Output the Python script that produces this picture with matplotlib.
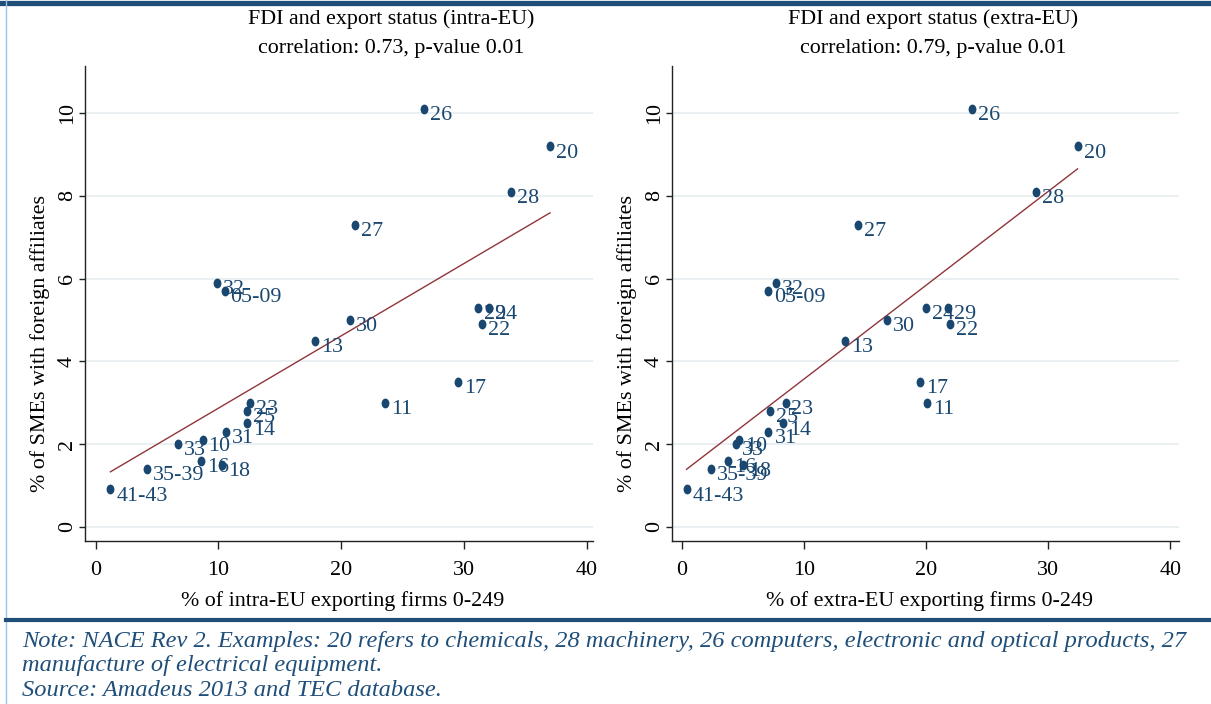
import matplotlib
matplotlib.use("Agg")
import matplotlib.pyplot as plt
import numpy as np
from matplotlib.markers import MarkerStyle
from matplotlib.transforms import Affine2D
from matplotlib.lines import Line2D

plt.rcParams['font.family'] = ['Liberation Serif', 'DejaVu Serif']

# ---- data ----
sectors = ["26", "20", "28", "27", "32", "05-09", "30", "29", "24", "22", "13",
           "17", "11", "23", "25", "14", "31", "10", "33", "16", "18", "35-39", "41-43"]
fdi_share = [10.1, 9.2, 8.1, 7.3, 5.9, 5.7, 5.0, 5.3, 5.3, 4.9, 4.5,
             3.5, 3.0, 3.0, 2.8, 2.5, 2.3, 2.1, 2.0, 1.6, 1.5, 1.4, 0.9]
intra_eu = [26.7, 37.0, 33.8, 21.1, 9.9, 10.5, 20.7, 31.1, 32.0, 31.5, 17.9,
            29.5, 23.6, 12.6, 12.3, 12.3, 10.6, 8.7, 6.7, 8.6, 10.3, 4.2, 1.2]
extra_eu = [23.8, 32.4, 29.0, 14.4, 7.7, 7.06, 16.8, 21.8, 20.0, 22.0, 13.4,
            19.5, 20.1, 8.5, 7.2, 8.3, 7.1, 4.7, 4.45, 3.8, 5.0, 2.4, 0.4]
x_ticks = [0, 10, 20, 30, 40]
y_ticks = [0, 2, 4, 6, 8, 10]

titles = [("FDI and export status (intra-EU)", "correlation: 0.73, p-value 0.01"),
          ("FDI and export status (extra-EU)", "correlation: 0.79, p-value 0.01")]
xlabels = ["% of intra-EU exporting firms 0-249", "% of extra-EU exporting firms 0-249"]
ylabel = "% of SMEs with foreign affiliates"
note_lines = ["Note: NACE Rev 2. Examples: 20 refers to chemicals, 28 machinery, 26 computers, electronic and optical products, 27",
              "manufacture of electrical equipment.",
              "Source: Amadeus 2013 and TEC database."]

# ---- styling ----
W, H = 1211, 704
navy = "#1a476f"
maroon = "#90353b"
frame_blue = "#1f4e79"
FS = 15.8
PX = 0.72  # points per pixel at dpi 100

fig = plt.figure(figsize=(W / 100, H / 100), dpi=100)

def px_axes(x0, y0, x1, y1):
    return fig.add_axes([x0 / W, 1 - y1 / H, (x1 - x0) / W, (y1 - y0) / H])

marker = MarkerStyle('o', transform=Affine2D().scale(0.8, 1.0))

panels = [
    dict(box=(85, 66, 593, 541), xlim=(-0.87, 40.5), x=intra_eu, title_cx=391, xl_cx=343, yl_x=40),
    dict(box=(672, 66, 1179, 541), xlim=(-0.79, 40.7), x=extra_eu, title_cx=933, xl_cx=930, yl_x=627),
]

for i, p in enumerate(panels):
    ax = px_axes(*p['box'])
    x = np.array(p['x'])
    y = np.array(fdi_share)
    ax.set_xlim(*p['xlim'])
    ax.set_ylim(-0.346, 11.14)
    for s in ['top', 'right']:
        ax.spines[s].set_visible(False)
    for s in ['left', 'bottom']:
        ax.spines[s].set_linewidth(1.0)
        ax.spines[s].set_color('#222222')
    ax.set_xticks(x_ticks)
    ax.set_yticks(y_ticks)
    ax.set_xticklabels([str(t) for t in x_ticks], fontsize=FS)
    ax.set_yticklabels([str(t) for t in y_ticks], fontsize=FS, rotation=90, va='center')
    ax.tick_params(axis='x', direction='out', length=8 * PX, width=1, color='#222222', pad=8.5)
    ax.tick_params(axis='y', direction='out', length=6 * PX, width=1, color='#222222', pad=1.5)
    ax.grid(axis='y', color='#e6eef0', linewidth=1.2)
    ax.set_axisbelow(True)

    # fitted line
    b, a = np.polyfit(x, y, 1)
    xs = np.array([x.min(), x.max()])
    ax.plot(xs, a + b * xs, color=maroon, linewidth=1.0, zorder=2)

    ax.scatter(x, y, marker=marker, s=50, color=navy, linewidths=0, zorder=3)
    for xi, yi, lab in zip(x, y, sectors):
        ax.annotate(lab, (xi, yi), xytext=(4.3, -5.0), textcoords='offset points',
                    ha='left', va='center', fontsize=FS, color=navy, zorder=4)

    fig.text(p['title_cx'] / W, 1 - 19 / H, titles[i][0], ha='center', va='center', fontsize=FS)
    fig.text(p['title_cx'] / W, 1 - 48 / H, titles[i][1], ha='center', va='center', fontsize=FS)
    fig.text(p['xl_cx'] / W, 1 - 601 / H, xlabels[i], ha='center', va='center', fontsize=FS)
    fig.text(p['yl_x'] / W, 1 - 343 / H, ylabel, ha='center', va='center', rotation=90, fontsize=FS)

# frame decorations
fig.add_artist(Line2D([0, 1], [1 - 2.5 / H, 1 - 2.5 / H], color=frame_blue, linewidth=3.8,
                      transform=fig.transFigure))
fig.add_artist(Line2D([5.5 / W, 5.5 / W], [0, 1], color="#9dc3e6", linewidth=1.0,
                      transform=fig.transFigure))
fig.add_artist(Line2D([5.5 / W, 1], [1 - 620 / H, 1 - 620 / H], color=frame_blue, linewidth=3.0,
                      transform=fig.transFigure))

note_y = [642, 666, 690]
for ln, yy in zip(note_lines, note_y):
    fig.text(22 / W, 1 - yy / H, ln, ha='left', va='center', fontsize=17.6,
             style='italic', color=frame_blue)

fig.savefig("out.png", dpi=100)
